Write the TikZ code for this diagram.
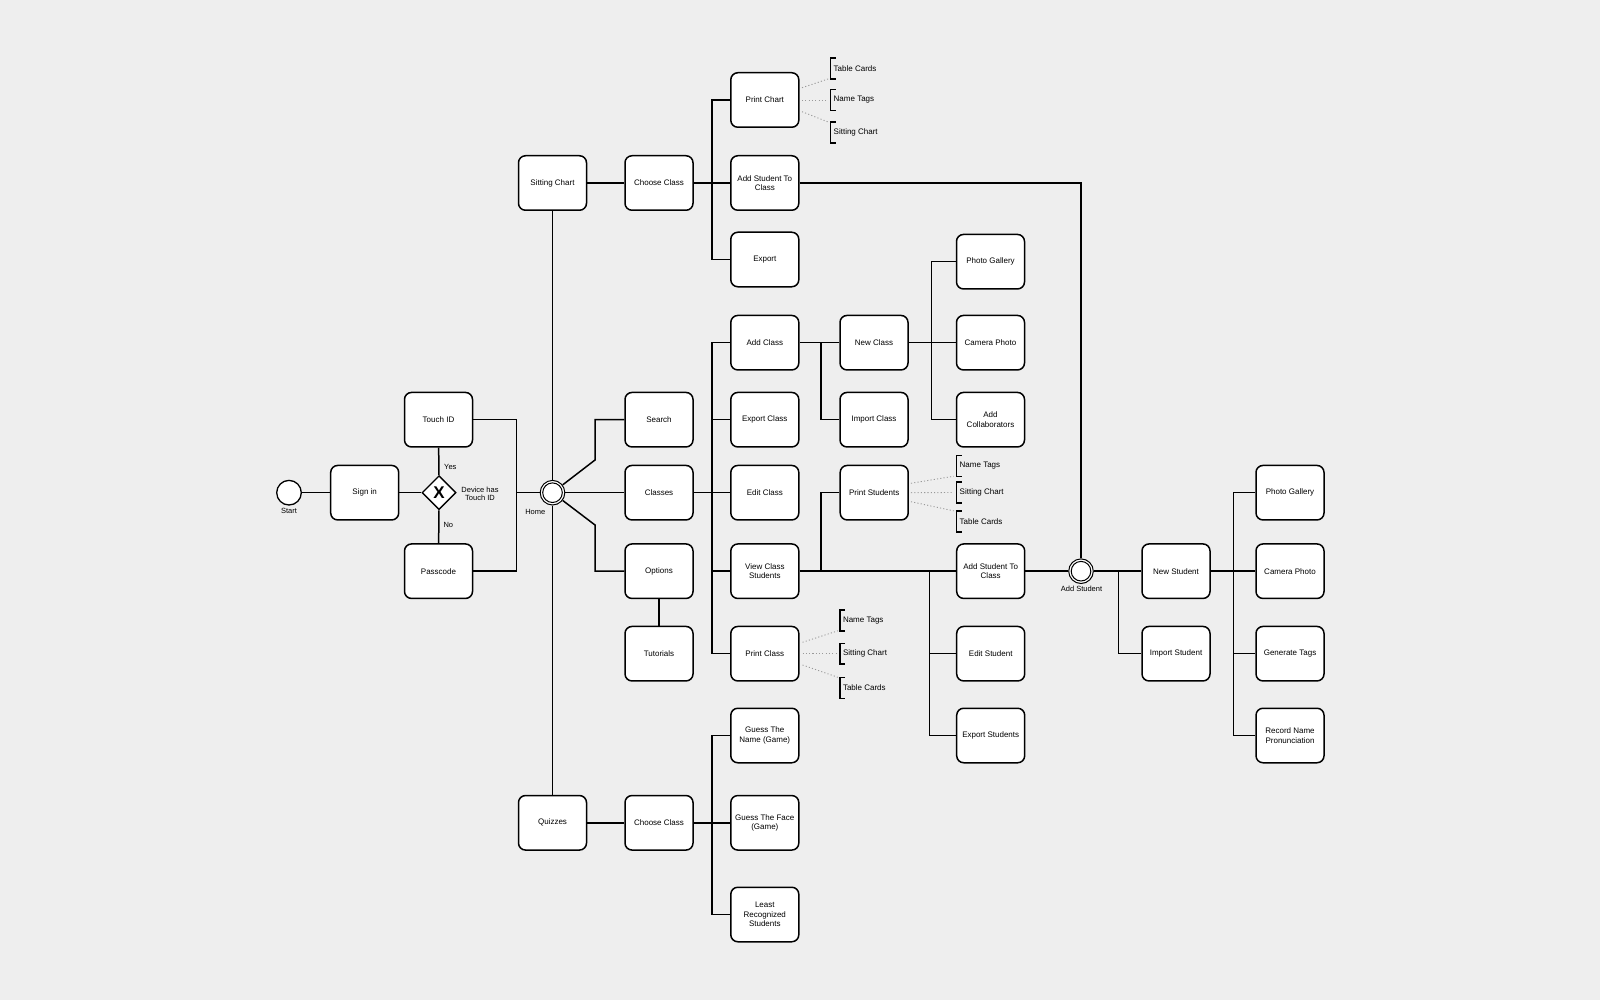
\documentclass[tikz,border=0pt]{standalone}
\usepackage{fontspec}
\setmainfont{Liberation Sans}
\usetikzlibrary{shapes.geometric}
\definecolor{bgc}{HTML}{EEEEEE}
\newcommand\brkt[1]{\draw[brline] ([xshift=5pt]#1.north west) -- (#1.north west) -- (#1.south west) -- ([xshift=5pt]#1.south west);}
\begin{document}
\begin{tikzpicture}[x=1pt,y=-1pt,
  proc/.style={draw, rectangle, rounded corners=7pt, line width=1.5pt, fill=white,
    minimum width=68pt, minimum height=54.5pt, inner sep=1pt, align=center,
    font=\fontsize{8}{9.7}\selectfont},
  lbl/.style={inner sep=0pt, align=center, font=\fontsize{7.5}{8.7}\selectfont},
  brk/.style={anchor=west, inner xsep=2.8pt, inner ysep=0pt, minimum height=20.5pt,
    font=\fontsize{8}{9.6}\selectfont},
  brline/.style={line width=1.5pt},
  conn/.style={line width=1.5pt},
  dotl/.style={line width=0.9pt, black!40, dash pattern=on 1.1pt off 2.2pt},
  evt/.style={circle, draw, fill=white, line width=1.3pt, minimum size=24.6pt, inner sep=0pt},
  gwy/.style={diamond, draw, fill=white, line width=1.4pt, minimum width=34pt, minimum height=34pt, inner sep=0pt}
]
\fill[bgc] (0,0) rectangle (1600,1000);
\useasboundingbox (0,0) rectangle (1600,1000);

% events and gateway
\node[evt] (start) at (289,492.7) {};
\node[gwy] (gw) at (439,492.7) {\fontsize{17}{17}\selectfont\bfseries X};
\node[evt, line width=1pt] (home) at (552.5,492.7) {};
\node[evt, line width=1pt] (addstudent) at (1081,571.2) {};

% processes
\node[proc] (signin) at (364.7,492.7) {Sign in};
\node[proc] (touchid) at (438.5,419.7) {Touch ID};
\node[proc] (passcode) at (438.5,571.2) {Passcode};
\node[proc] (sitting) at (552.5,183) {Sitting Chart};
\node[proc] (quizzes) at (552.5,822.8) {Quizzes};
\node[proc] (choose1) at (659,183) {Choose Class};
\node[proc] (search) at (659,419.7) {Search};
\node[proc] (classes) at (659,492.7) {Classes};
\node[proc] (options) at (659,571.2) {Options};
\node[proc] (tutorials) at (659,653.7) {Tutorials};
\node[proc] (choose2) at (659,822.8) {Choose Class};
\node[proc] (printchart) at (764.8,100) {Print Chart};
\node[proc] (addstu1) at (764.8,183) {Add Student To\\Class};
\node[proc] (export) at (764.8,259.5) {Export};
\node[proc] (addclass) at (764.8,342.7) {Add Class};
\node[proc] (exportclass) at (764.8,419.7) {Export Class};
\node[proc] (editclass) at (764.8,492.7) {Edit Class};
\node[proc] (viewclass) at (764.8,571.2) {View Class\\Students};
\node[proc] (printclass) at (764.8,653.7) {Print Class};
\node[proc] (guessname) at (764.8,735.5) {Guess The\\Name (Game)};
\node[proc] (guessface) at (764.8,822.8) {Guess The Face\\(Game)};
\node[proc] (least) at (764.8,914.5) {Least\\Recognized\\Students};
\node[proc] (newclass) at (874,342.7) {New Class};
\node[proc] (importclass) at (874,419.7) {Import Class};
\node[proc] (printstudents) at (874.2,492.7) {Print Students};
\node[proc] (photo1) at (990.5,261.7) {Photo Gallery};
\node[proc] (camera1) at (990.5,342.7) {Camera Photo};
\node[proc] (collab) at (990.5,419.7) {Add\\Collaborators};
\node[proc] (addstu2) at (990.7,571.2) {Add Student To\\Class};
\node[proc] (editstudent) at (990.7,653.7) {Edit Student};
\node[proc] (exportstudents) at (990.7,735.5) {Export Students};
\node[proc] (newstudent) at (1176,571.2) {New Student};
\node[proc] (importstudent) at (1176,653.7) {Import Student};
\node[proc] (photo2) at (1290,492.7) {Photo Gallery};
\node[proc] (camera2) at (1290,571.2) {Camera Photo};
\node[proc] (gentags) at (1290,653.7) {Generate Tags};
\node[proc] (record) at (1290,735.5) {Record Name\\Pronunciation};

% labels
\node[lbl] (startlbl) at (289,510.7) {Start};
\node[lbl] (homelbl) at (535.3,511.7) {Home};
\node[lbl] (yeslbl) at (450.3,467.3) {Yes};
\node[lbl] (nolbl) at (448.3,525.3) {No};
\node[lbl] (devlbl) at (480,493.7) {Device has\\Touch ID};
\node[lbl] (addstulbl) at (1081.5,589.3) {Add Student};

% bracket annotations
\node[brk] (pc1) at (830.7,68.5) {Table Cards};
\node[brk] (pc2) at (830.7,100) {Name Tags};
\node[brk] (pc3) at (830.7,132.5) {Sitting Chart};
\node[brk] (ps1) at (956.7,465.8) {Name Tags};
\node[brk] (ps2) at (956.7,492.5) {Sitting Chart};
\node[brk] (ps3) at (956.7,521.3) {Table Cards};
\node[brk] (pl1) at (840,620.3) {Name Tags};
\node[brk] (pl2) at (840,653.7) {Sitting Chart};
\node[brk] (pl3) at (840,687.8) {Table Cards};
\brkt{pc1}\brkt{pc2}\brkt{pc3}
\brkt{ps1}\brkt{ps2}\brkt{ps3}
\brkt{pl1}\brkt{pl2}\brkt{pl3}

% bus coordinates
\coordinate (bG) at (516.7,0);
\coordinate (bH) at (595,0);
\coordinate (bA) at (712,0);
\coordinate (bB) at (821,0);
\coordinate (bC) at (931.5,0);
\coordinate (bD) at (929.5,0);
\coordinate (bE) at (1118.3,0);
\coordinate (bF) at (1233.3,0);
\coordinate (d1) at (595,460);
\coordinate (d2) at (595,525);

% connectors
\begin{scope}[conn]
\draw (start) -- (signin);
\draw (signin) -- (gw);
\draw (gw) -- (touchid);
\draw (gw) -- (passcode);
\draw (touchid.east) -- (touchid.east -| bG) -- (passcode.east -| bG) -- (passcode.east);
\draw (home.west -| bG) -- (home.west);
\draw (sitting.south) -- (home.north);
\draw (home.south) -- (quizzes.north);
\draw (home) -- (classes);
\draw (home) -- (d1) -- (search.west -| bH) -- (search.west);
\draw (home) -- (d2) -- (options.west -| bH) -- (options.west);
\draw (options) -- (tutorials);
\draw (sitting) -- (choose1);
\draw (quizzes) -- (choose2);
% top bus
\draw (choose1.east) -- (addstu1.west);
\draw (printchart.west) -- (printchart.west -| bA) -- (export.west -| bA) -- (export.west);
% middle bus
\draw (classes.east) -- (editclass.west);
\draw (addclass.west) -- (addclass.west -| bA) -- (printclass.west -| bA) -- (printclass.west);
\draw (exportclass.west -| bA) -- (exportclass.west);
\draw (viewclass.west -| bA) -- (viewclass.west);
% bottom bus
\draw (choose2.east) -- (guessface.west);
\draw (guessname.west) -- (guessname.west -| bA) -- (least.west -| bA) -- (least.west);
% class branch
\draw (addclass.east) -- (newclass.west);
\draw (addclass.east -| bB) |- (importclass.west);
\draw (newclass.east) -- (camera1.west);
\draw (photo1.west) -- (photo1.west -| bC) -- (collab.west -| bC) -- (collab.west);
% students
\draw (addstu1.east) -| (addstudent.north);
\draw (viewclass.east) -- (addstu2.west);
\draw (viewclass.east -| bB) |- (printstudents.west);
\draw (viewclass.east -| bD) -- (exportstudents.west -| bD) -- (exportstudents.west);
\draw (editstudent.west -| bD) -- (editstudent.west);
\draw (addstu2.east) -- (addstudent.west);
\draw (addstudent.east) -- (newstudent.west);
\draw (newstudent.west -| bE) |- (importstudent.west);
\draw (newstudent.east) -- (camera2.west);
\draw (photo2.west) -- (photo2.west -| bF) -- (record.west -| bF) -- (record.west);
\draw (gentags.west -| bF) -- (gentags.west);
\end{scope}

% inner rings of intermediate events
\draw[line width=1pt] (home.center) circle (9.8pt);
\draw[line width=1pt] (addstudent.center) circle (9.8pt);

% dotted annotation links
\draw[dotl] ([xshift=2.5pt,yshift=12.3pt]printchart.east) -- ([xshift=-2.5pt]pc1.south west);
\draw[dotl] ([xshift=2.5pt]printchart.east) -- ([xshift=-2.5pt]pc2.west);
\draw[dotl] ([xshift=2.5pt,yshift=-11.7pt]printchart.east) -- ([xshift=-2.5pt]pc3.north west);
\draw[dotl] ([xshift=2pt,yshift=9.4pt]printstudents.east) -- ([xshift=-3pt]ps1.south west);
\draw[dotl] ([xshift=2pt]printstudents.east) -- ([xshift=-3pt]ps2.west);
\draw[dotl] ([xshift=2pt,yshift=-9pt]printstudents.east) -- ([xshift=-3pt]ps3.north west);
\draw[dotl] ([xshift=3pt,yshift=11.4pt]printclass.east) -- ([xshift=-2pt]pl1.south west);
\draw[dotl] ([xshift=3pt]printclass.east) -- ([xshift=-2pt]pl2.west);
\draw[dotl] ([xshift=3pt,yshift=-11.3pt]printclass.east) -- ([xshift=-2pt]pl3.north west);
\end{tikzpicture}
\end{document}
